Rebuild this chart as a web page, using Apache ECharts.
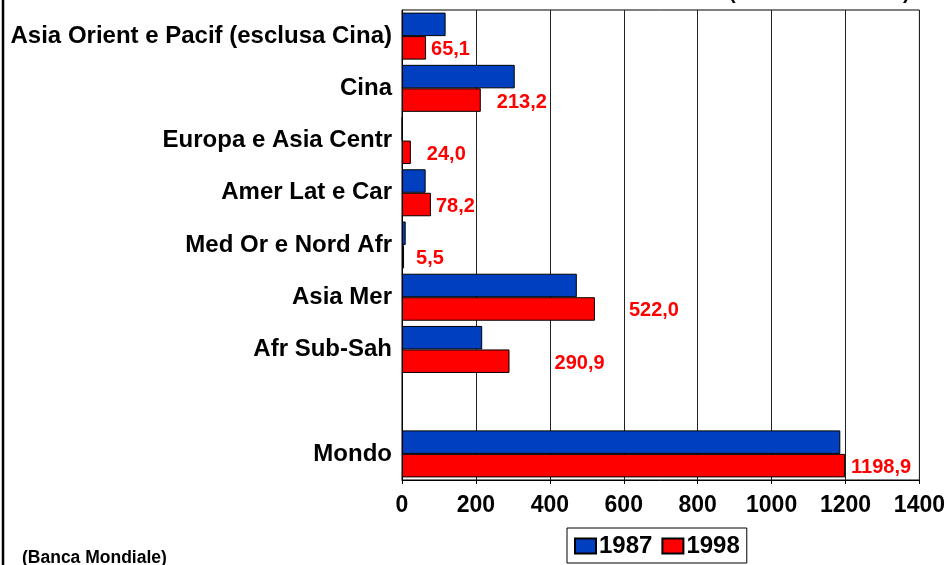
<!DOCTYPE html>
<html>
<head>
<meta charset="utf-8">
<script src="https://cdn.jsdelivr.net/npm/echarts@6/dist/echarts.min.js"></script>
<style>
html,body{margin:0;padding:0;background:#fff;}
#c{width:948px;height:565px;}
</style>
</head>
<body>
<div id="c"></div>
<script>
const categories = ['Asia Orient e Pacif (esclusa Cina)', 'Cina', 'Europa e Asia Centr', 'Amer Lat e Car', 'Med Or e Nord Afr', 'Asia Mer', 'Afr Sub-Sah', '', 'Mondo'];
const values1987 = [118, 305, 1, 64, 10, 473, 217, null, 1186];
const values1998 = [65.1, 213.2, 24.0, 78.2, 5.5, 522.0, 290.9, null, 1198.9];
const seriesNames = ['1987', '1998'];
const xTicks = [0, 200, 400, 600, 800, 1000, 1200, 1400];
const labelGaps = [5, 16, 16, 5, 12, 34, 45, 5, 6];

const FONT = 'Liberation Sans, Arial, sans-serif';
const fmt = v => v.toFixed(1).replace('.', ',');

const chart = echarts.init(document.getElementById('c'), null, {renderer: 'canvas'});
chart.setOption({
  animation: false,
  backgroundColor: '#fff',
  grid: {left: 402, right: 28, top: 10, bottom: 85, show: true, borderColor: '#000', borderWidth: 1},
  legend: {
    data: seriesNames,
    left: 567, top: 528,
    orient: 'horizontal',
    borderColor: '#000', borderWidth: 1,
    padding: [6, 7, 5, 7],
    itemWidth: 21, itemHeight: 15, itemGap: 9,
    textStyle: {fontFamily: FONT, fontWeight: 'bold', fontSize: 24, color: '#000', padding: [0, 0, 0, -2]},
    icon: 'rect'
  },
  xAxis: {
    type: 'value', min: xTicks[0], max: xTicks[xTicks.length - 1], interval: 200,
    axisLine: {show: true, lineStyle: {color: '#000', width: 1}},
    axisTick: {show: true, length: 4, lineStyle: {color: '#000'}},
    splitLine: {show: true, lineStyle: {color: '#222', width: 1}},
    axisLabel: {fontFamily: FONT, fontWeight: 'bold', fontSize: 23, color: '#000', margin: 14, formatter: v => String(v)}
  },
  yAxis: {
    type: 'category', inverse: true, data: categories,
    axisLine: {show: true, lineStyle: {color: '#000', width: 1}},
    axisTick: {show: false},
    axisLabel: {fontFamily: FONT, fontWeight: 'bold', fontSize: 24, color: '#000', margin: 10, verticalAlign: 'middle', lineHeight: 24, padding: [5, 0, 0, 0]}
  },
  series: [
    {
      name: seriesNames[0], type: 'bar', data: values1987,
      barGap: '0%', barCategoryGap: '10%',
      itemStyle: {color: '#0040C0', borderColor: '#000', borderWidth: 1}
    },
    {
      name: seriesNames[1], type: 'bar',
      data: values1998.map((v, i) => v === null ? null : {value: v, label: {distance: labelGaps[i]}}),
      barGap: '0%', barCategoryGap: '10%',
      itemStyle: {color: '#FF0000', borderColor: '#000', borderWidth: 1},
      label: {
        show: true, position: 'right', offset: [0, 2],
        formatter: p => fmt(p.value),
        fontFamily: FONT, fontWeight: 'bold', fontSize: 20, color: '#FF0000'
      }
    }
  ],
  graphic: [
    {type: 'line', shape: {x1: 3, y1: 0, x2: 3, y2: 565}, style: {stroke: '#000', lineWidth: 2.5}},
    {type: 'text', left: 22, top: 549, style: {text: '(Banca Mondiale)', font: 'bold 17.5px ' + FONT, fill: '#000'}},
    {type: 'text', left: 729, top: -17, style: {text: '(', font: 'bold 20px ' + FONT, fill: '#000'}},
    {type: 'text', left: 903, top: -17, style: {text: ')', font: 'bold 20px ' + FONT, fill: '#000'}}
  ]
});
</script>
</body>
</html>
